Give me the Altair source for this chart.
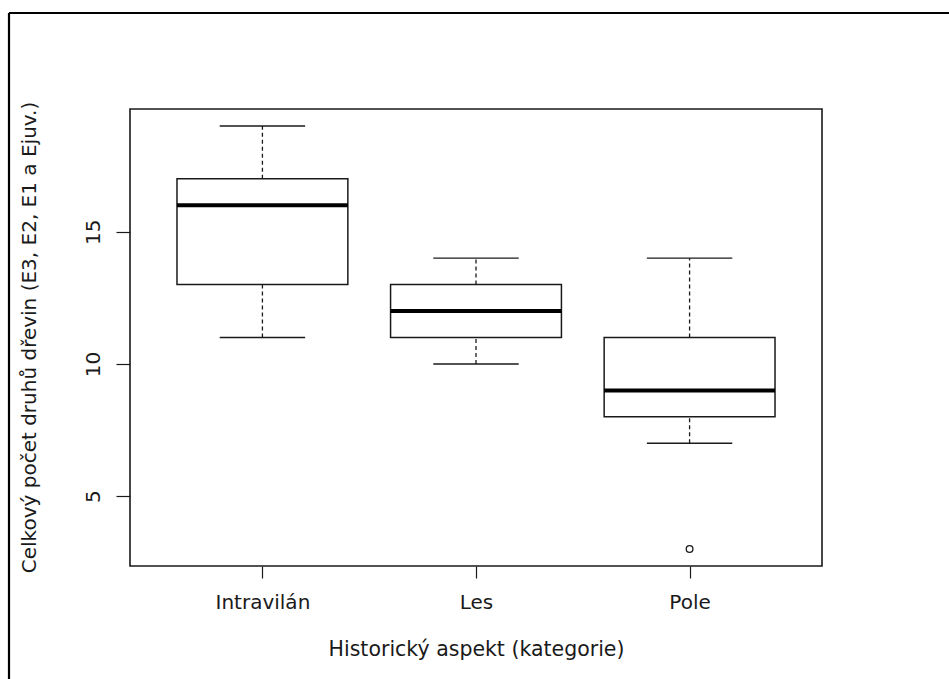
import altair as alt
import pandas as pd

# ---- data ----
categories = ["Intravilán", "Les", "Pole"]
whisker_low = [11, 10, 7]
quartile_1 = [13, 11, 8]
medians = [16, 12, 9]
quartile_3 = [17, 13, 11]
whisker_high = [19, 14, 14]
outlier_categories = ["Pole"]
outlier_values = [3]

y_ticks = [5, 10, 15]
x_title = "Historický aspekt (kategorie)"
y_title = "Celkový počet druhů dřevin (E3, E2, E1 a Ejuv.)"

positions = [i + 1 for i in range(len(categories))]
df = pd.DataFrame({
    "cat": categories,
    "pos": positions,
    "lo": whisker_low,
    "q1": quartile_1,
    "med": medians,
    "q3": quartile_3,
    "hi": whisker_high,
})
pos_of = dict(zip(categories, positions))
out_df = pd.DataFrame({
    "cat": outlier_categories,
    "pos": [pos_of[c] for c in outlier_categories],
    "value": outlier_values,
})

FONT = "DejaVu Sans"
INK = "#1a1a1a"
label_expr = " : ".join(
    f"datum.value == {p} ? '{c}'" for p, c in zip(positions, categories)
) + " : ''"

x_scale = alt.Scale(domain=[0.38, len(categories) + 0.62], nice=False, zero=False)
y_scale = alt.Scale(domain=[2.36, 19.64], nice=False, zero=False)

x_axis = alt.Axis(
    values=positions, labelExpr=label_expr, grid=False, domain=False,
    tickSize=12, tickColor=INK, tickWidth=1.2, labelPadding=14,
    labelFont=FONT, labelFontSize=20, labelColor=INK,
    titleFont=FONT, titleFontSize=20.5, titleColor=INK, titleFontWeight="normal",
    titleY=83, titleBaseline="middle",
)
y_axis = alt.Axis(
    values=y_ticks, grid=False, domain=False,
    tickSize=14, tickColor=INK, tickWidth=1.2, labelPadding=13,
    labelAngle=270, labelAlign="center", labelBaseline="bottom",
    labelFont=FONT, labelFontSize=20, labelColor=INK,
    titleFont=FONT, titleFontSize=20, titleColor=INK, titleFontWeight="normal",
    titleAngle=270, titleX=-101, titleY=228, titleAlign="center",
    titleBaseline="middle",
)


def X(field):
    return alt.X(field, scale=x_scale, axis=x_axis, title=x_title)


def Y(field):
    return alt.Y(field, scale=y_scale, axis=y_axis, title=y_title)


base = alt.Chart(df).transform_calculate(
    bl="datum.pos - 0.4", br="datum.pos + 0.4",
    sl="datum.pos - 0.2", sr="datum.pos + 0.2",
)

upper_whisker = base.mark_rule(color=INK, strokeWidth=1.3, strokeDash=[4, 3]).encode(
    x=X("pos:Q"), y=Y("q3:Q"), y2="hi:Q",
)
lower_whisker = base.mark_rule(color=INK, strokeWidth=1.3, strokeDash=[4, 3]).encode(
    x=X("pos:Q"), y=Y("lo:Q"), y2="q1:Q",
)
cap_hi = base.mark_rule(color=INK, strokeWidth=1.4).encode(
    x=X("sl:Q"), x2="sr:Q", y=Y("hi:Q"),
)
cap_lo = base.mark_rule(color=INK, strokeWidth=1.4).encode(
    x=X("sl:Q"), x2="sr:Q", y=Y("lo:Q"),
)
box = base.mark_rect(fill="white", stroke=INK, strokeWidth=1.5).encode(
    x=X("bl:Q"), x2="br:Q", y=Y("q1:Q"), y2="q3:Q",
)
median = base.mark_rule(color="black", strokeWidth=4).encode(
    x=X("bl:Q"), x2="br:Q", y=Y("med:Q"),
)
outliers = alt.Chart(out_df).mark_point(
    shape="circle", filled=False, color=INK, size=45, strokeWidth=1.3, opacity=1
).encode(
    x=X("pos:Q"), y=Y("value:Q"),
)

# figure frame (top and left edges of the outer border)
frame_df = pd.DataFrame({"k": [0]})
frame_top = alt.Chart(frame_df).mark_rule(color="black", strokeWidth=2.2).encode(
    x=alt.value(-121), x2=alt.value(830), y=alt.value(-96)
)
frame_left = alt.Chart(frame_df).mark_rule(color="black", strokeWidth=2.2).encode(
    x=alt.value(-121), y=alt.value(-96), y2=alt.value(575)
)

chart = alt.layer(
    upper_whisker, lower_whisker, cap_hi, cap_lo, box, median, outliers,
    frame_top, frame_left,
).properties(
    width=692, height=457,
    autosize=alt.AutoSizeParams(type="none"),
    padding={"left": 130, "top": 109, "right": 127, "bottom": 113},
    background="white",
).configure_view(
    stroke=INK, strokeWidth=1.6,
)

chart.save("out.html", embed_options={"renderer": "svg", "actions": False})
